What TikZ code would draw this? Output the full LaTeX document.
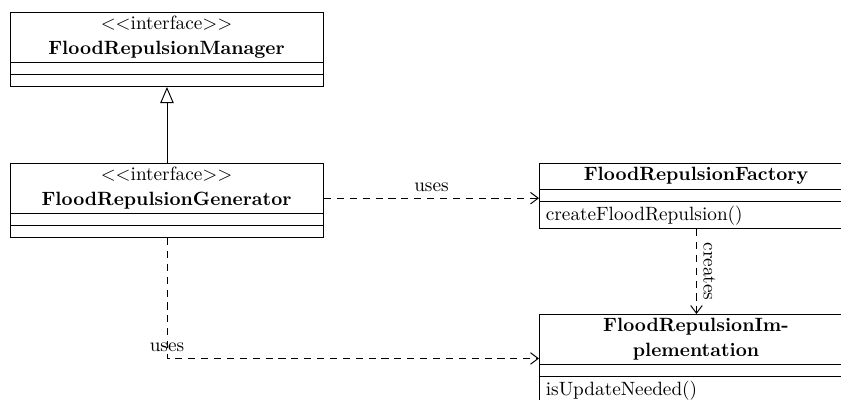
\documentclass[tikz,border=0pt]{standalone}
\usetikzlibrary{arrows.meta}
\begin{document}
\begin{tikzpicture}[x=0.52pt,y=-0.52pt,
  classbox/.style={draw, line width=0.5pt, anchor=north west, inner sep=0pt},
  sepline/.style={draw, line width=0.5pt},
  dep/.style={draw, line width=0.5pt, dash pattern=on 3.7pt off 3pt, -{Straight Barb[length=4pt,width=6pt]}},
  inherit/.style={draw, line width=0.5pt, -{Triangle[open,length=8.4pt,width=7pt]}},
  lbl/.style={inner sep=3.3pt},
  ttl/.style={anchor=base, font=\bfseries},
  stereo/.style={anchor=base},
  op/.style={anchor=base west, inner sep=0pt}]
\useasboundingbox (0,0) rectangle (841,399);
\clip (0,0) rectangle (841,399);

% class boxes
\node[classbox, minimum width=313*0.52pt, minimum height=74*0.52pt] (mgr) at (10,12) {};
\node[classbox, minimum width=313*0.52pt, minimum height=74*0.52pt] (gen) at (10,163) {};
\node[classbox, minimum width=314*0.52pt, minimum height=65*0.52pt] (fac) at (539,163) {};
\node[classbox, minimum width=314*0.52pt, minimum height=88*0.52pt] (impl) at (539,314) {};

% separators
\draw[sepline] (10,62) -- (323,62);
\draw[sepline] (10,74) -- (323,74);
\draw[sepline] (10,213) -- (323,213);
\draw[sepline] (10,225) -- (323,225);
\draw[sepline] (539,189) -- (853,189);
\draw[sepline] (539,201) -- (853,201);
\draw[sepline] (539,364) -- (853,364);
\draw[sepline] (539,376) -- (853,376);

% texts
\node[stereo] (mgrs) at (166.5,29) {$<<$interface$>>$};
\node[ttl] (mgrn) at (166.5,54) {FloodRepulsionManager};
\node[stereo] (gens) at (166.5,180) {$<<$interface$>>$};
\node[ttl] (genn) at (166.5,205) {FloodRepulsionGenerator};
\node[ttl] (facn) at (696,180.5) {FloodRepulsionFactory};
\node[op] (faco) at (545.5,220) {createFloodRepulsion()};
\node[ttl] (impn1) at (696,331.5) {FloodRepulsionIm-};
\node[ttl] (impn2) at (696,356.5) {plementation};
\node[op] (impo) at (545.5,395) {isUpdateNeeded()};

% connectors
\draw[inherit] (gen.north) -- (mgr.south);
\coordinate (u1) at ([yshift=1.2pt]gen.east);
\draw[dep] (u1) -- (u1 -| fac.west) node[lbl, midway, above] {uses};
\draw[dep] (fac.south) -- (impl.north) node[lbl, midway, anchor=south, rotate=-90] {creates};
\draw[dep] (gen.south) |- (impl.west) node[lbl, pos=0.5, above] {uses};
\end{tikzpicture}
\end{document}
